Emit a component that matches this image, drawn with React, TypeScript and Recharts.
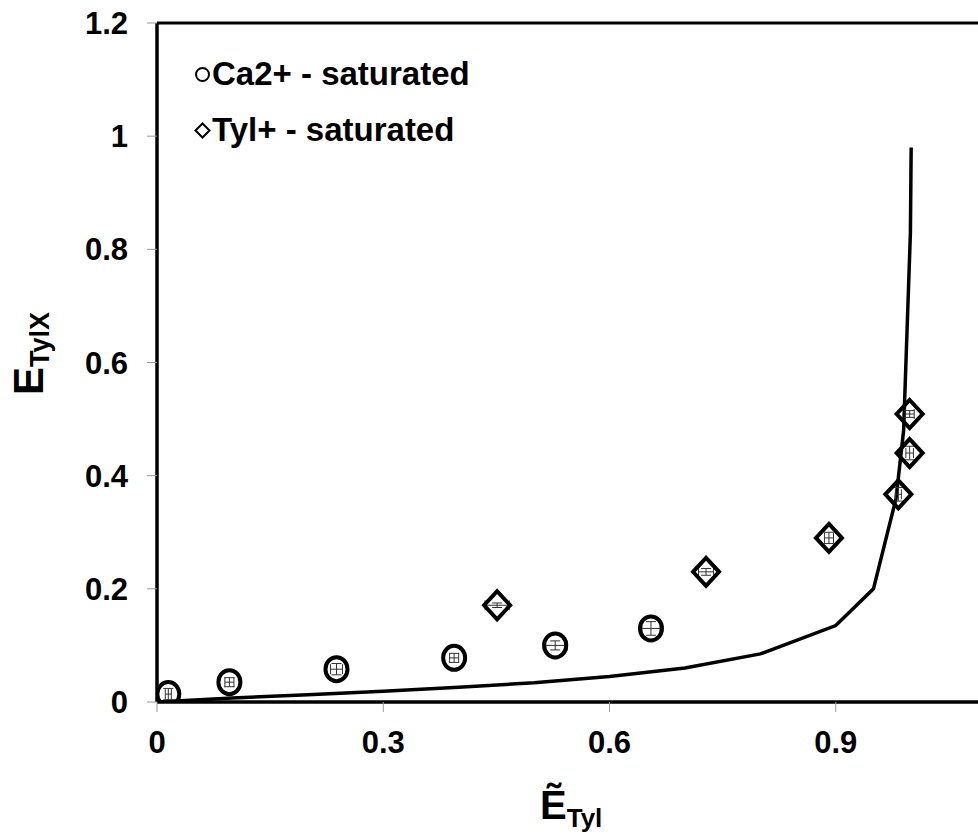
import React from 'react';
import { ComposedChart, Line, Scatter, XAxis, YAxis, ReferenceLine, ErrorBar } from 'recharts';

const FONT = '"Liberation Sans", Arial, Helvetica, sans-serif';

// model curve
const curveX = [0, 0.1, 0.2, 0.3, 0.4, 0.5, 0.6, 0.7, 0.8, 0.9, 0.95, 0.98, 0.99, 0.999, 1.0];
const curveY = [0, 0.007, 0.013, 0.019, 0.026, 0.034, 0.045, 0.06, 0.085, 0.135, 0.2, 0.36, 0.48, 0.83, 0.98];

// Ca2+ saturated resin
const caX = [0.015, 0.096, 0.238, 0.394, 0.528, 0.655];
const caY = [0.014, 0.035, 0.058, 0.078, 0.1, 0.13];
const caErrX = [0.004, 0.006, 0.008, 0.006, 0.016, 0.012];
const caErrY = [0.01, 0.008, 0.01, 0.008, 0.008, 0.012];

// Tyl+ saturated resin
const tylX = [0.451, 0.728, 0.891, 0.983, 0.998, 0.998];
const tylY = [0.171, 0.23, 0.29, 0.367, 0.44, 0.509];
const tylErrX = [0.016, 0.01, 0.006, 0.004, 0.005, 0.006];
const tylErrY = [0.004, 0.006, 0.01, 0.012, 0.012, 0.006];

const seriesNames = ['Ca2+ - saturated', 'Tyl+ - saturated'];
const xTicks = [0, 0.3, 0.6, 0.9];
const yTicks = [0, 0.2, 0.4, 0.6, 0.8, 1, 1.2];

const curveData = curveX.map((x, i) => ({ x, y: curveY[i] }));
const caData = caX.map((x, i) => ({ x, y: caY[i], ex: caErrX[i], ey: caErrY[i] }));
const tylData = tylX.map((x, i) => ({ x, y: tylY[i], ex: tylErrX[i], ey: tylErrY[i] }));

const tickStyle = { fill: '#000', fontSize: 31, fontWeight: 'bold', fontFamily: FONT };

const CircleMark = (p: any) => (
  <ellipse cx={p.cx} cy={p.cy} rx={11} ry={12} fill="none" stroke="#000" strokeWidth={4} />
);

const DiamondMark = (p: any) => (
  <path
    d={`M${p.cx},${p.cy - 14} L${p.cx + 13},${p.cy} L${p.cx},${p.cy + 14} L${p.cx - 13},${p.cy} Z`}
    fill="none"
    stroke="#000"
    strokeWidth={4}
  />
);

const XTitle = (props: any) => {
  const vb = props.viewBox || { x: 157, y: 702 };
  return (
    <text x={vb.x + 383} y={vb.y + 117} fontFamily={FONT} fontWeight="bold" fill="#000">
      <tspan fontSize={40}>Ẽ</tspan>
      <tspan fontSize={26} dy={8}>Tyl</tspan>
    </text>
  );
};

const YTitle = () => (
  <text transform="rotate(-90)" x={-395} y={43} fontFamily={FONT} fontWeight="bold" fill="#000">
    <tspan fontSize={42}>E</tspan>
    <tspan fontSize={27} dy={6}>TylX</tspan>
  </text>
);

const LegendBox = () => (
  <div
    style={{
      position: 'absolute',
      left: 194,
      top: 46,
      fontFamily: FONT,
      fontWeight: 'bold',
      fontSize: 33,
      color: '#000',
    }}
  >
    {seriesNames.map((name, i) => (
      <div key={name} style={{ height: 56, display: 'flex', alignItems: 'center', whiteSpace: 'nowrap' }}>
        <svg width={17} height={17} style={{ flex: 'none', marginRight: 1 }}>
          {i === 0 ? (
            <circle cx={8.5} cy={8.5} r={6.5} fill="none" stroke="#000" strokeWidth={2} />
          ) : (
            <path d="M8.5,1.5 L15.5,8.5 L8.5,15.5 L1.5,8.5 Z" fill="none" stroke="#000" strokeWidth={2} />
          )}
        </svg>
        <span>{name}</span>
      </div>
    ))}
  </div>
);

export default function App() {
  return (
    <div style={{ position: 'fixed', left: 0, top: 0, width: 978, height: 840, overflow: 'hidden', background: '#fff' }}>
      <ComposedChart width={1080} height={840} margin={{ top: 23, right: 18, bottom: 0, left: 0 }}>
        <XAxis
          type="number"
          dataKey="x"
          domain={[0, 1.2]}
          ticks={xTicks}
          allowDataOverflow
          tick={tickStyle}
          tickSize={10}
          tickMargin={19}
          tickLine={{ stroke: '#999', strokeWidth: 1 }}
          axisLine={{ stroke: '#000', strokeWidth: 3.5 }}
          height={138}
          label={<XTitle />}
        />
        <YAxis
          type="number"
          dataKey="y"
          domain={[0, 1.2]}
          ticks={yTicks}
          allowDataOverflow
          tick={tickStyle}
          tickSize={10}
          tickMargin={19}
          tickLine={{ stroke: '#999', strokeWidth: 1 }}
          axisLine={{ stroke: '#000', strokeWidth: 3.5 }}
          width={157}
          label={<YTitle />}
        />
        <ReferenceLine y={1.2} stroke="#000" strokeWidth={3} />
        <ReferenceLine x={1.2} stroke="#000" strokeWidth={3} />
        <Line
          data={curveData}
          dataKey="y"
          type="linear"
          stroke="#000"
          strokeWidth={3.5}
          dot={false}
          activeDot={false}
          legendType="none"
          isAnimationActive={false}
        />
        <Scatter name={seriesNames[0]} data={caData} dataKey="y" shape={<CircleMark />} isAnimationActive={false}>
          <ErrorBar dataKey="ex" direction="x" width={5} strokeWidth={1} stroke="#333" />
          <ErrorBar dataKey="ey" direction="y" width={5} strokeWidth={1} stroke="#333" />
        </Scatter>
        <Scatter name={seriesNames[1]} data={tylData} dataKey="y" shape={<DiamondMark />} isAnimationActive={false}>
          <ErrorBar dataKey="ex" direction="x" width={5} strokeWidth={1} stroke="#333" />
          <ErrorBar dataKey="ey" direction="y" width={5} strokeWidth={1} stroke="#333" />
        </Scatter>
      </ComposedChart>
      <LegendBox />
    </div>
  );
}
